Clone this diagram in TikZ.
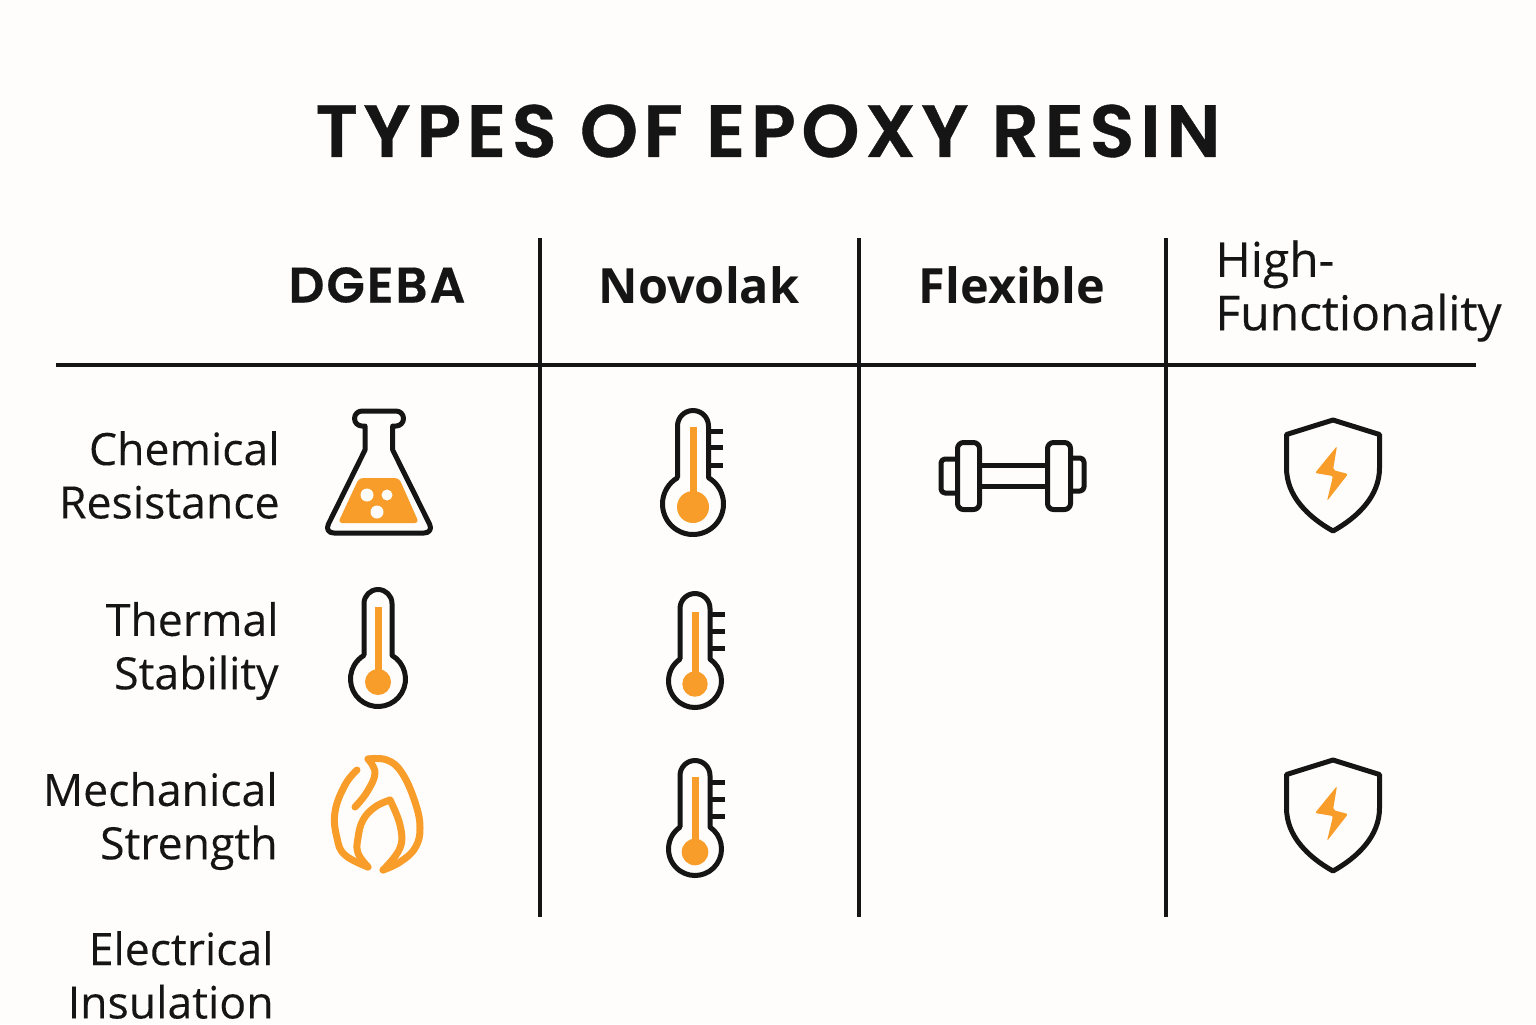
\documentclass[tikz,border=0pt]{standalone}
\usepackage{fontspec}
\setmainfont{Open Sans}
\newfontfamily\titlefont[LetterSpace=7.5,FakeBold=0.5]{Poppins SemiBold}
\newfontfamily\capsfont[LetterSpace=4,FakeBold=0.3]{Poppins SemiBold}
\usetikzlibrary{positioning}
\definecolor{resinorange}{HTML}{F99D2A}
\definecolor{inkblack}{HTML}{151515}
\definecolor{pagewhite}{HTML}{FEFDFB}

\begin{document}
\begin{tikzpicture}[
		x=0.5pt, y=0.5pt,
		gridline/.style = {draw=inkblack, line width=1.7pt},
		outline/.style  = {draw=inkblack, line width=2.5pt, line join=round},
		liquid/.style   = {fill=resinorange, draw=none},
		flameline/.style = {draw=resinorange, line width=3.5pt, line cap=round, line join=round},
		title/.style    = {font=\titlefont\fontsize{37}{37}\selectfont, text=inkblack, inner sep=0pt},
		head/.style     = {font=\bfseries\fontsize{24.3}{24.3}\selectfont, text=inkblack, inner sep=0pt},
		rowlabel/.style = {font=\addfontfeature{FakeBold=0.15}\fontsize{22.3}{26.7}\selectfont, text=inkblack, align=right, anchor=east, inner sep=0pt},
		pics/thermobody/.style n args = {5}{code={
			\pgfmathsetmacro\jointy{sqrt(#3*#3-#1*#1)}
			\pgfmathsetmacro\jointa{atan2(\jointy,#1)}
			\draw[outline] (-#1,\jointy) -- (-#1,#2) arc (180:0:#1) -- (#1,\jointy) arc (\jointa:{\jointa-360+2*(90-\jointa)}:#3) -- cycle;
			\fill[liquid] (-3.5,-3) -- (-3.5,#4) -- (3.5,#4) -- (3.5,-3) -- cycle;
			\fill[liquid] (0,-3) circle (#5);
		}},
		pics/thermotick/.style = {code={
			\foreach \yval in {#1}
			\draw[outline] (15,\yval) -- (29.5,\yval);
		}},
		flask/.pic = {
			\fill[liquid, rounded corners=2pt] (359,-478) -- (399,-478) -- (419,-523) -- (338,-523) -- cycle;
			\fill[pagewhite] (367,-495) circle (6.5) (387,-495) circle (5.5) (377,-512) circle (6.5);
			\draw[outline] (365,-426) -- (362,-426) arc (270:90:7.5) -- (396,-411) arc (90:-90:7.5) -- (392.7,-426) -- (392.7,-450) [rounded corners=5pt] -- (434,-533) -- (324,-533) [sharp corners] -- (365,-450) -- cycle;
		},
		dumbbell/.pic = {
			\draw[outline] (982,-465) -- (1045,-465) (982,-486) -- (1045,-486);
			\draw[outline, rounded corners=3pt] (957.5,-442.5) rectangle (979.5,-509.5);
			\draw[outline, rounded corners=3pt] (1047.5,-442.5) rectangle (1070.5,-509.5);
			\draw[outline, rounded corners=2pt] (955,-459) -- (941,-459) -- (941,-493) -- (955,-493);
			\draw[outline, rounded corners=2pt] (1072,-458) -- (1084,-458) -- (1084,-491) -- (1072,-491);
		},
		shield/.pic = {
			\draw[outline] (0,54) -- (46.5,39.5) -- (46.5,6) .. controls (46.5,-22) and (25,-43) .. (0,-57) .. controls (-25,-43) and (-46.5,-22) .. (-46.5,6) -- (-46.5,39.5) -- cycle;
			\fill[liquid, rounded corners=1pt] (4,28) -- (-18,1) -- (0,-2) -- (-6,-27) -- (15,0) -- (0,4) -- cycle;
		},
		flame/.pic = {
			\draw[flameline] plot[smooth, tension=0.7] coordinates {(357,-770) (345,-785) (335,-812) (337,-838) (345,-855) (368,-867)};
			\draw[flameline] plot[smooth, tension=0.7] coordinates {(355,-807) (367,-792) (375,-773) (368,-759)};
			\draw[flameline] plot[smooth, tension=0.7] coordinates {(368,-759) (387,-760) (402,-773) (415,-802) (420,-828) (415,-848) (400,-862) (383,-870)};
			\draw[flameline] plot[smooth, tension=0.7] coordinates {(390,-800) (375,-807) (363,-820) (358,-838) (358,-853) (368,-867)};
			\draw[flameline] plot[smooth, tension=0.7] coordinates {(390,-800) (400,-825) (400,-848) (383,-870)};
		}]
		
		% page
		\fill[pagewhite] (0,0) rectangle (1536,-1024);
		\useasboundingbox (0,0) rectangle (1536,-1024);
		
		% title and column heads
		\node[title] (title) at (768,-131) {TYPES OF EPOXY RESIN};
		\node[head, font=\capsfont\fontsize{25}{25}\selectfont] (dgeba) at (377,-285) {DGEBA};
		\node[head] (novolak) at (699,-285) {Novolak};
		\node[head] (flexible) at (1012,-285) {Flexible};
		\node[font=\addfontfeature{FakeBold=0.3}\fontsize{24}{26.7}\selectfont, text=inkblack, align=left, anchor=west, inner sep=0pt] (highfunc) at (1215,-291) {High-\\Functionality};
		
		% grid
		\draw[gridline] (56,-365) -- (1476,-365);
		\foreach \xval in {540,859,1166}
		\draw[gridline] (\xval,-238) -- (\xval,-917);
		
		% row labels
		\node[rowlabel] (chem) at (280,-475) {Chemical\\Resistance};
		\node[rowlabel] (therm) at (279,-651) {Thermal\\Stability};
		\node[rowlabel] (mech) at (278,-821) {Mechanical\\Strength};
		\node[rowlabel] (elec) at (274,-975) {Electrical\\Insulation};
		
		% DGEBA icons
		\pic {flask};
		\pic at (378,-679) {thermobody={14}{75.5}{27.5}{72}{13}};
		\pic {flame};
		
		% Novolak icons
		\pic at (693,-504) {thermobody={15.5}{78}{30.5}{77}{16}};
		\pic at (693,-504) {thermotick={73,57,39}};
		\pic at (695,-681) {thermobody={15}{72.5}{26.5}{69}{12.7}};
		\pic at (695,-681) {thermotick={67,50,33}};
		\pic at (695,-849) {thermobody={15}{73.5}{26.5}{72}{13.3}};
		\pic at (695,-849) {thermotick={67,50,33}};
		
		% Flexible icon
		\pic {dumbbell};
		
		% High-Functionality icons
		\pic at (1333,-474) {shield};
		\pic at (1333,-814) {shield};
		
	\end{tikzpicture}
\end{document}
